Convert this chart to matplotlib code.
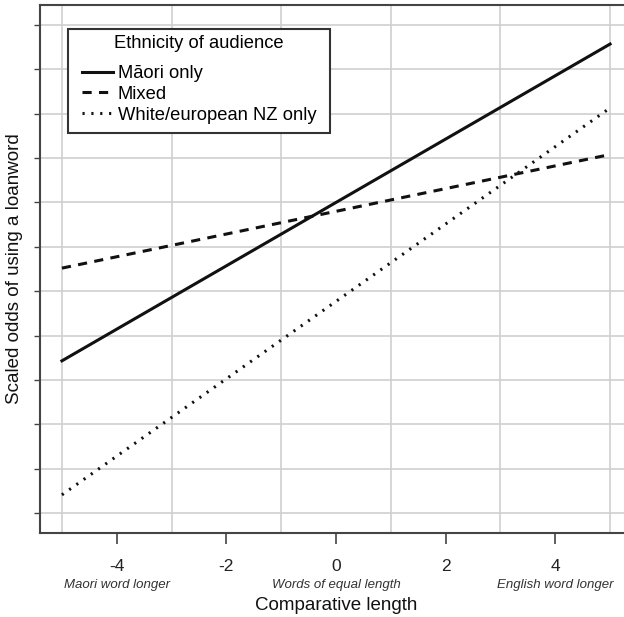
import matplotlib
matplotlib.use('Agg')
import matplotlib.pyplot as plt
from matplotlib.patches import Rectangle
import numpy as np

plt.rcParams['font.family'] = ['Liberation Sans', 'DejaVu Sans']

# data (y in unlabelled grid units)
x_ends = [-5, 5]
maori_only = [3.43, 10.57]
mixed = [5.52, 8.08]
white_only = [0.41, 9.13]
series_labels = ['Māori only', 'Mixed', 'White/european NZ only']
x_ticks = [-4, -2, 0, 2, 4]
x_sub = {-4: 'Maori word longer', 0: 'Words of equal length', 4: 'English word longer'}

W, H = 624, 617
fig = plt.figure(figsize=(W / 100, H / 100), dpi=100)
# axes box in pixels: left 40, right (cropped) 632, top 5, bottom 533
ax = fig.add_axes([40 / W, 1 - 533 / H, (632 - 40) / W, (533 - 5) / H])

ax.set_xlim(-5.4, 5.4)
ax.set_ylim(-0.45, 11.45)

# grid
ax.set_xticks(np.arange(-5, 6, 1), minor=True)
ax.set_yticks(np.arange(0, 12, 1))
ax.grid(True, which='minor', axis='x', color='#cfcfcf', linewidth=1.2)
ax.grid(True, which='major', axis='y', color='#cfcfcf', linewidth=1.2)
ax.set_axisbelow(True)

ln_col = '#111111'
ax.plot(x_ends, maori_only, color=ln_col, linewidth=2.2, label=series_labels[0])
ax.plot(x_ends, mixed, color=ln_col, linewidth=2.2, dashes=(3.0, 2.4), label=series_labels[1])
ax.plot(x_ends, white_only, color=ln_col, linewidth=2.2, dashes=(0.7, 2.2),
        label=series_labels[2])

# axes styling
for s in ['top', 'left', 'bottom']:
    ax.spines[s].set_color('#444444')
    ax.spines[s].set_linewidth(1.5)
ax.spines['right'].set_visible(False)

ax.set_xticks(x_ticks)
ax.set_xticklabels([str(t) for t in x_ticks], fontsize=12.5, color='#222222')
ax.tick_params(axis='x', which='major', direction='out', length=8, width=1.2,
               color='#444444', pad=11)
ax.tick_params(axis='x', which='minor', length=0)
ax.tick_params(axis='y', which='major', direction='out', length=4, width=1.0,
               color='#444444', labelleft=False)

for xv, txt in x_sub.items():
    ax.annotate(txt, xy=(xv, 0), xycoords=('data', 'axes fraction'),
                xytext=(0, -52 * 0.72), textcoords='offset points',
                ha='center', va='center', fontsize=9.5, style='italic', color='#333333')

ax.annotate('Comparative length', xy=(0, 0), xycoords=('data', 'axes fraction'),
            xytext=(0, -72 * 0.72), textcoords='offset points',
            ha='center', va='center', fontsize=13.5, color='#111111')

fig.text(15 / W, 1 - 269 / H, 'Scaled odds of using a loanword', rotation=90,
         ha='center', va='center', fontsize=13.5, color='#111111')

# legend: no built-in frame, own box with wider side padding
leg = ax.legend(loc='upper left', bbox_to_anchor=((82 - 40) / 592, (533 - 35) / 528),
                borderaxespad=0, title='Ethnicity of audience', fontsize=13.2,
                title_fontsize=13.2, frameon=False, handlelength=1.7,
                handletextpad=0.25, labelspacing=0.2, borderpad=0)
leg._legend_box.sep = 9.5

fig.canvas.draw()
bb = leg.get_window_extent()
px, p_top, p_bot = 14, 6, 9
ax.add_patch(Rectangle(((bb.x0 - px) / W, (bb.y0 - p_bot) / H),
                       (bb.width + 2 * px) / W, (bb.height + p_top + p_bot) / H,
                       transform=fig.transFigure, facecolor='white',
                       edgecolor='#333333', linewidth=1.5, zorder=4.5, clip_on=False))

fig.savefig('out.png', dpi=100)
